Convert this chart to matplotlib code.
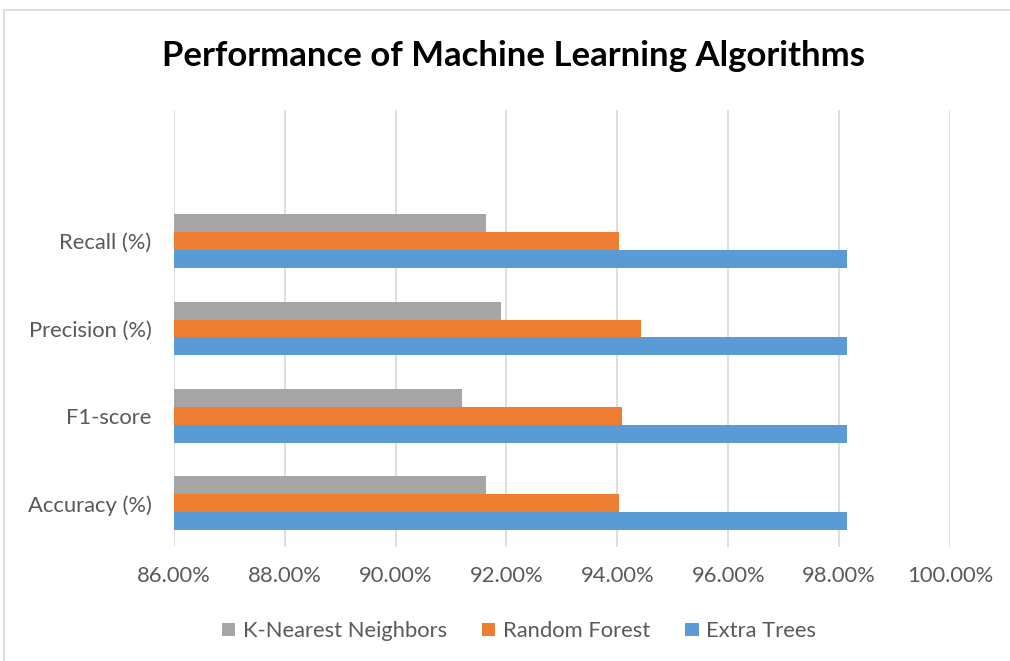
import matplotlib.pyplot as plt
import numpy as np
from matplotlib.patches import Rectangle

categories = ["Accuracy (%)", "F1-score", "Precision (%)", "Recall (%)"]
knn = [91.64, 91.20, 91.90, 91.64]
random_forest = [94.03, 94.08, 94.42, 94.03]
extra_trees = [98.15, 98.14, 98.15, 98.15]
x_ticks = [86, 88, 90, 92, 94, 96, 98, 100]

plt.rcParams["font.family"] = ["Lato", "DejaVu Sans"]

fig = plt.figure(figsize=(10.1, 6.61), dpi=100)
ax = fig.add_axes([0.172, 0.1725, 0.7686, 0.6611])

# light chart border like an Excel chart area
fig.patches.append(Rectangle((0.004, -0.01), 1.1, 0.995, transform=fig.transFigure,
                             fill=False, edgecolor="#D9D9D9", linewidth=1.2))

y = np.arange(len(categories))
h = 0.205
ax.barh(y - h, extra_trees, height=h, color="#5B9BD5", label="Extra Trees", zorder=3)
ax.barh(y, random_forest, height=h, color="#ED7D31", label="Random Forest", zorder=3)
ax.barh(y + h, knn, height=h, color="#A5A5A5", label="K-Nearest Neighbors", zorder=3)

ax.set_xlim(86, 100)
ax.set_ylim(-0.5, 4.5)
ax.set_xticks(x_ticks)
ax.set_xticklabels([f"{v:.2f}%" for v in x_ticks])
ax.set_yticks(y)
ax.set_yticklabels(categories)
ax.tick_params(axis="both", length=0, labelsize=15.8, colors="#595959")
ax.tick_params(axis="x", pad=14)
ax.tick_params(axis="y", pad=16)
ax.grid(axis="x", color="#D9D9D9", linewidth=1.2, zorder=0)
for s in ax.spines.values():
    s.set_visible(False)

fig.text(0.508, 0.916, "Performance of Machine Learning Algorithms", ha="center", va="center",
         fontsize=25, fontweight="bold", color="black")

handles, labels = ax.get_legend_handles_labels()
fig.legend(handles[::-1], labels[::-1], loc="center", bbox_to_anchor=(0.514, 0.045), ncol=3,
           frameon=False, fontsize=15.8, labelcolor="#595959", handlelength=0.6,
           handleheight=0.6, handletextpad=0.35, columnspacing=1.6)

fig.savefig("out.png", dpi=100)
